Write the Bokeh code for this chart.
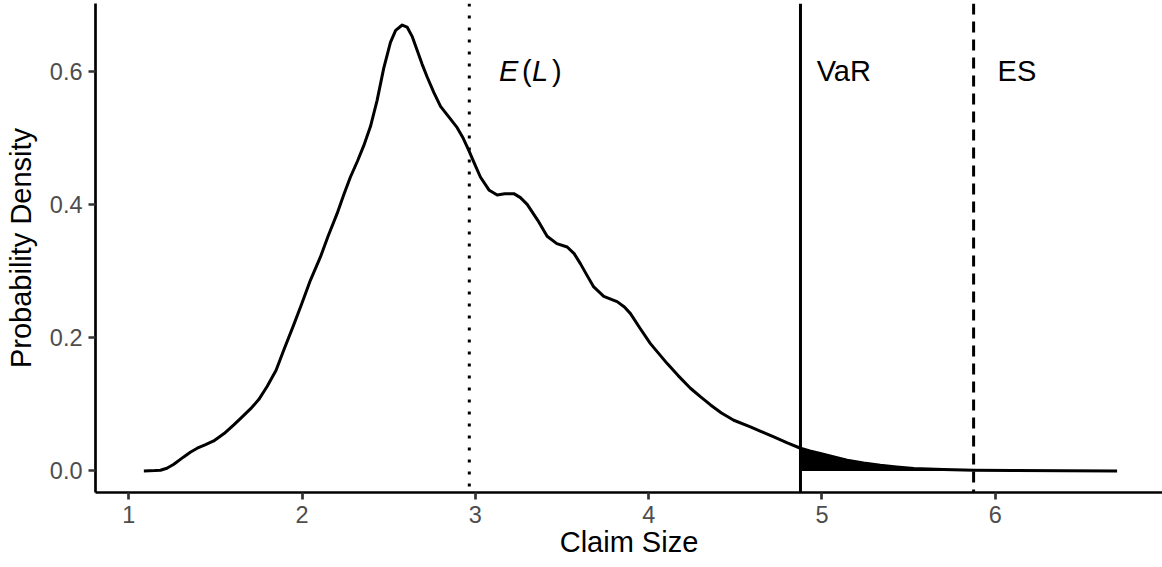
from bokeh.plotting import figure
from bokeh.models import Range1d, Span, NumeralTickFormatter, ColumnDataSource
from bokeh.embed import file_html
from bokeh.resources import INLINE
from bokeh.core.properties import value
import numpy as np

# ---- data ----
claim_size = [1.087, 1.15, 1.183, 1.22, 1.26, 1.317, 1.355, 1.395, 1.44, 1.49,
              1.55, 1.606, 1.65, 1.702, 1.75, 1.799, 1.85, 1.894, 1.95, 1.997,
              2.048, 2.106, 2.15, 2.202, 2.24, 2.279, 2.32, 2.356, 2.395, 2.433,
              2.471, 2.51, 2.54, 2.578, 2.606, 2.635, 2.664, 2.693, 2.722, 2.76,
              2.799, 2.85, 2.895, 2.93, 2.962, 3.0, 3.029, 3.08, 3.126, 3.17,
              3.222, 3.26, 3.299, 3.36, 3.414, 3.47, 3.53, 3.57, 3.606, 3.645,
              3.683, 3.741, 3.799, 3.818, 3.86, 3.895, 3.95, 4.01, 4.107, 4.17,
              4.241, 4.30, 4.357, 4.42, 4.491, 4.587, 4.65, 4.722, 4.80, 4.876,
              4.93, 4.99, 5.07, 5.145, 5.24, 5.337, 5.43, 5.53, 5.70, 5.876,
              6.1, 6.4, 6.703]
density = [0.000, 0.0005, 0.001, 0.004, 0.010, 0.021, 0.028, 0.034, 0.039, 0.045,
           0.056, 0.069, 0.080, 0.093, 0.107, 0.127, 0.151, 0.181, 0.218, 0.250,
           0.286, 0.321, 0.352, 0.386, 0.414, 0.441, 0.465, 0.488, 0.517, 0.556,
           0.604, 0.643, 0.661, 0.669, 0.666, 0.652, 0.631, 0.610, 0.591, 0.568,
           0.547, 0.530, 0.515, 0.499, 0.481, 0.458, 0.441, 0.421, 0.414, 0.416,
           0.416, 0.410, 0.400, 0.376, 0.352, 0.341, 0.336, 0.326, 0.311, 0.293,
           0.276, 0.262, 0.256, 0.254, 0.246, 0.236, 0.214, 0.191, 0.161, 0.143,
           0.124, 0.111, 0.099, 0.087, 0.076, 0.066, 0.059, 0.051, 0.042, 0.034,
           0.030, 0.026, 0.021, 0.016, 0.012, 0.0086, 0.006, 0.0036, 0.002, 0.001,
           0.0006, 0.0003, 0.0]

expected_loss = 2.965
value_at_risk = 4.876
expected_shortfall = 5.875

x_ticks = [1, 2, 3, 4, 5, 6]
y_ticks = [0.0, 0.2, 0.4, 0.6]

label_texts = ["VaR", "ES"]
label_x = [value_at_risk + 0.25, expected_shortfall + 0.25]
label_y = [0.6, 0.6]

# E(L): italic letters, upright parentheses
el_parts = ["E", "(", "L", ")"]
el_styles = ["italic", "normal", "italic", "normal"]
el_offsets = [-31, -8, 2, 22]
el_x = [expected_loss + 0.35] * 4
el_y = [0.6] * 4

FONT = "Liberation Sans"

xs = np.array(claim_size)
ds = np.array(density)
tail = xs >= value_at_risk

p = figure(width=1162, height=567, output_backend="svg", toolbar_location=None,
           x_range=Range1d(0.808, 6.965), y_range=Range1d(-0.0324, 0.7013),
           min_border_left=95, min_border_right=0, min_border_top=3,
           min_border_bottom=75)
p.grid.visible = False
p.outline_line_color = None
p.background_fill_color = "white"
p.border_fill_color = "white"

# tail area beyond VaR
p.varea(x=xs[tail], y1=np.zeros(tail.sum()), y2=ds[tail], fill_color="black")

# density curve
p.line(xs, ds, line_color="black", line_width=3, line_join="round")

# vertical reference lines
p.add_layout(Span(location=expected_loss, dimension="height", line_color="black",
                  line_width=3, line_dash="3 9"))
p.add_layout(Span(location=value_at_risk, dimension="height", line_color="black",
                  line_width=3))
p.add_layout(Span(location=expected_shortfall, dimension="height", line_color="black",
                  line_width=3, line_dash="11 7"))

# labels
p.text(x=label_x, y=label_y, text=label_texts, text_font=value(FONT),
       text_font_size="29px", text_align="center", text_baseline="middle",
       text_color="black")
el_src = ColumnDataSource(dict(x=el_x, y=el_y, text=el_parts, style=el_styles,
                               xo=el_offsets))
p.text(x="x", y="y", text="text", x_offset="xo", text_font_style="style",
       source=el_src, text_font=value(FONT), text_font_size="29px",
       text_align="left", text_baseline="middle", text_color="black")

# axes
p.xaxis.ticker = x_ticks
p.yaxis.ticker = y_ticks
p.yaxis.formatter = NumeralTickFormatter(format="0.0")
p.xaxis.axis_label = "Claim Size"
p.yaxis.axis_label = "Probability Density"
for ax in (p.xaxis, p.yaxis):
    ax.axis_line_color = "black"
    ax.axis_line_width = 2.7
    ax.major_tick_line_color = "#333333"
    ax.major_tick_line_width = 2.7
    ax.major_tick_out = 7
    ax.major_tick_in = 0
    ax.minor_tick_line_color = None
    ax.major_label_text_font = FONT
    ax.major_label_text_font_size = "23.5px"
    ax.major_label_text_color = "#4D4D4D"
    ax.major_label_standoff = 6
    ax.axis_label_text_font = FONT
    ax.axis_label_text_font_size = "29px"
    ax.axis_label_text_font_style = "normal"
    ax.axis_label_text_color = "black"
p.xaxis.axis_label_standoff = 0
p.yaxis.axis_label_standoff = 10

open("out.html", "w").write(file_html(p, INLINE))
